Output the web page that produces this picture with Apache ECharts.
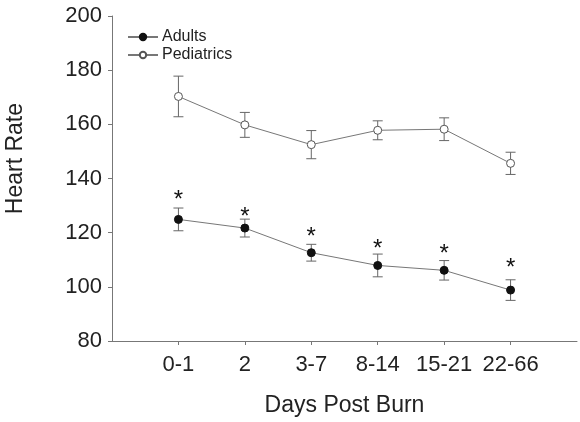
<!DOCTYPE html>
<html>
<head>
<meta charset="utf-8">
<script src="https://cdn.jsdelivr.net/npm/echarts@6/dist/echarts.min.js"></script>
<style>html,body{margin:0;padding:0;background:#fff}#c{width:580px;height:422px}</style>
</head>
<body>
<div id="c"></div>
<script>
var categories = ['0-1', '2', '3-7', '8-14', '15-21', '22-66'];
var adultsMean = [124.9, 121.7, 112.6, 107.9, 106.1, 98.8];
var adultsErr = [4.2, 3.3, 3.1, 4.2, 3.6, 3.8];
var pedsMean = [170.3, 159.8, 152.5, 157.8, 158.2, 145.6];
var pedsErr = [7.5, 4.6, 5.2, 3.5, 4.2, 4.1];
var starLevels = [133.9, 127.5, 120.0, 115.8, 113.9, 108.5];
var yTicks = [80, 100, 120, 140, 160, 180, 200];

var FONT = '"Liberation Sans", Arial, sans-serif';
var axisCats = [''].concat(categories, ['']);
function pts(m) { return m.map(function (v, i) { return [i + 1, v]; }); }
function errs(m, e) { return m.map(function (v, i) { return [i + 1, v - e[i], v + e[i]]; }); }

function errRender(params, api) {
  var x = api.value(0);
  var lo = api.coord([x, api.value(1)]);
  var hi = api.coord([x, api.value(2)]);
  var hw = 5;
  var st = { stroke: '#666', lineWidth: 1 };
  return {
    type: 'group',
    children: [
      { type: 'line', shape: { x1: lo[0], y1: lo[1], x2: hi[0], y2: hi[1] }, style: st },
      { type: 'line', shape: { x1: lo[0] - hw, y1: lo[1], x2: lo[0] + hw, y2: lo[1] }, style: st },
      { type: 'line', shape: { x1: hi[0] - hw, y1: hi[1], x2: hi[0] + hw, y2: hi[1] }, style: st }
    ]
  };
}

function starRender(params, api) {
  var p = api.coord([api.value(0), api.value(1)]);
  return {
    type: 'text',
    style: { text: '*', x: p[0], y: p[1] + 5, align: 'center', verticalAlign: 'middle', font: '24px ' + FONT, fill: '#111' }
  };
}

var chart = echarts.init(document.getElementById('c'), null, { renderer: 'canvas' });
chart.setOption({
  animation: false,
  backgroundColor: '#fff',
  textStyle: { fontFamily: FONT },
  grid: { left: 112, right: 1, top: 16, bottom: 80 },
  legend: {
    orient: 'vertical', left: 122, top: 24, itemGap: 2,
    itemWidth: 30, itemHeight: 8,
    textStyle: { fontFamily: FONT, fontSize: 16, color: '#222', padding: [0, 0, 0, -1] },
    data: ['Adults', 'Pediatrics']
  },
  xAxis: {
    type: 'category', data: axisCats, boundaryGap: false,
    axisLine: { lineStyle: { color: '#777', width: 1 } },
    axisTick: { length: 4, lineStyle: { color: '#777' }, interval: function (i) { return i > 0 && i < axisCats.length - 1; } },
    axisLabel: { interval: 0, fontSize: 22, color: '#222', margin: 13, fontFamily: FONT },
    splitLine: { show: false },
    name: 'Days Post Burn', nameLocation: 'middle', nameGap: 53,
    nameTextStyle: { fontSize: 23, color: '#222', fontFamily: FONT }
  },
  yAxis: {
    type: 'value', min: yTicks[0], max: yTicks[yTicks.length - 1], interval: 20,
    axisLine: { show: true, lineStyle: { color: '#777', width: 1 } },
    axisTick: { show: true, length: 4, lineStyle: { color: '#777' } },
    axisLabel: { fontSize: 22, color: '#222', margin: 10, fontFamily: FONT },
    splitLine: { show: false }
  },
  graphic: [{
    type: 'text', left: 4, top: 103, rotation: Math.PI / 2,
    style: { text: 'Heart Rate', font: '23px ' + FONT, fill: '#222' }
  }],
  series: [
    {
      type: 'custom', name: 'pedErr', renderItem: errRender, data: errs(pedsMean, pedsErr),
      encode: { x: 0, y: [1, 2] }, z: 1, silent: true
    },
    {
      type: 'custom', name: 'adErr', renderItem: errRender, data: errs(adultsMean, adultsErr),
      encode: { x: 0, y: [1, 2] }, z: 1, silent: true
    },
    {
      type: 'line', name: 'Adults', data: pts(adultsMean), symbol: 'circle', symbolSize: 8,
      lineStyle: { color: '#777', width: 1 },
      itemStyle: { color: '#111', borderColor: '#111', borderWidth: 1 }, z: 3
    },
    {
      type: 'line', name: 'Pediatrics', data: pts(pedsMean), symbol: 'circle', symbolSize: 8,
      lineStyle: { color: '#777', width: 1 },
      itemStyle: { color: '#fff', borderColor: '#555', borderWidth: 1 }, z: 3
    },
    {
      type: 'custom', name: 'stars', renderItem: starRender, data: pts(starLevels),
      encode: { x: 0, y: 1 }, z: 4, silent: true
    }
  ]
});
</script>
</body>
</html>
